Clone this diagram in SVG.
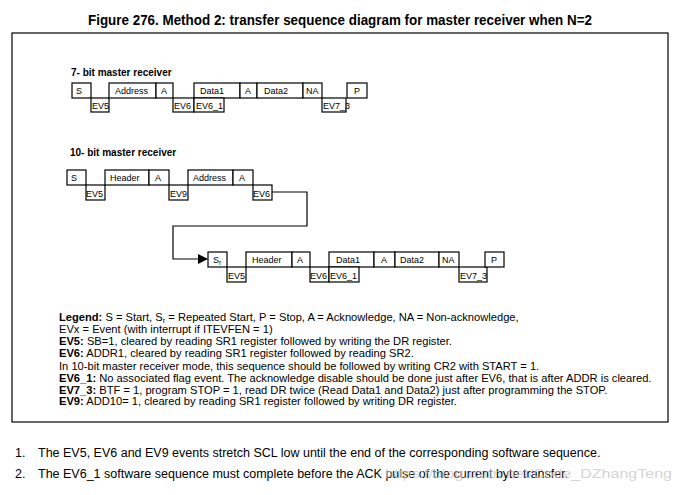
<svg xmlns="http://www.w3.org/2000/svg" width="679" height="495" viewBox="0 0 679 495">
<style>
.bx{fill:#fff;stroke:#000;stroke-width:1.2}
.t{font-family:"Liberation Sans",Arial,sans-serif;font-size:9px;fill:#000}
.h{font-family:"Liberation Sans",Arial,sans-serif;font-size:10px;font-weight:bold;fill:#000}
.lg{font-family:"Liberation Sans",Arial,sans-serif;font-size:11.15px;fill:#000}
.nt{font-family:"Liberation Sans",Arial,sans-serif;font-size:12.5px;fill:#000}
.b{font-weight:bold}
.c{fill:none;stroke:#000;stroke-width:1.2}
</style>
<defs>
<marker id="ah" markerWidth="10" markerHeight="10" refX="9" refY="5" orient="auto" markerUnits="userSpaceOnUse">
<path d="M0,0 L10,5 L0,10 z" fill="#000"/>
</marker>
</defs>
<rect width="679" height="495" fill="#fff"/>
<text x="340" y="25" text-anchor="middle" font-family="Liberation Sans, Arial, sans-serif" font-size="15" font-weight="bold" textLength="504" lengthAdjust="spacingAndGlyphs">Figure 276. Method 2: transfer sequence diagram for master receiver when N=2</text>
<rect x="12" y="33" width="656" height="389" fill="none" stroke="#000" stroke-width="1.2"/>

<text class="h" x="71" y="76">7- bit master receiver</text>
<g id="r1-S"><rect class="bx" x="72" y="83" width="19" height="15"/><text class="t" x="76" y="94">S</text></g>
<g id="r1-EV5"><rect class="bx" x="91" y="98" width="18" height="14"/><text class="t" x="92" y="109">EV5</text></g>
<g id="r1-Address"><rect class="bx" x="109" y="83" width="47" height="15"/><text class="t" x="115" y="94">Address</text></g>
<g id="r1-A1"><rect class="bx" x="156" y="83" width="17" height="15"/><text class="t" x="161" y="94">A</text></g>
<g id="r1-EV6"><rect class="bx" x="173" y="98" width="21" height="14"/><text class="t" x="174" y="109">EV6</text></g>
<g id="r1-Data1"><rect class="bx" x="194" y="83" width="46" height="15"/><text class="t" x="200" y="94">Data1</text></g>
<g id="r1-EV6_1"><rect class="bx" x="194" y="98" width="30" height="14"/><text class="t" x="196" y="109">EV6_1</text></g>
<g id="r1-A2"><rect class="bx" x="240" y="83" width="17" height="15"/><text class="t" x="245" y="94">A</text></g>
<g id="r1-Data2"><rect class="bx" x="257" y="83" width="46" height="15"/><text class="t" x="264" y="94">Data2</text></g>
<g id="r1-NA"><rect class="bx" x="303" y="83" width="19" height="15"/><text class="t" x="306" y="94">NA</text></g>
<g id="r1-EV7_3"><rect class="bx" x="322" y="98" width="24" height="14"/><text class="t" x="323" y="109">EV7_3</text></g>
<g id="r1-P"><rect class="bx" x="347" y="83" width="20" height="15"/><text class="t" x="354" y="94">P</text></g>

<text class="h" x="70" y="156">10- bit master receiver</text>
<g id="r2-S"><rect class="bx" x="67" y="170" width="19" height="15"/><text class="t" x="71" y="181">S</text></g>
<g id="r2-EV5"><rect class="bx" x="86" y="185" width="19" height="15"/><text class="t" x="86" y="197">EV5</text></g>
<g id="r2-Header"><rect class="bx" x="105" y="170" width="44" height="15"/><text class="t" x="110" y="181">Header</text></g>
<g id="r2-A1"><rect class="bx" x="149" y="170" width="20" height="15"/><text class="t" x="155" y="181">A</text></g>
<g id="r2-EV9"><rect class="bx" x="169" y="185" width="19" height="15"/><text class="t" x="170" y="197">EV9</text></g>
<g id="r2-Address"><rect class="bx" x="188" y="170" width="45" height="15"/><text class="t" x="193" y="181">Address</text></g>
<g id="r2-A2"><rect class="bx" x="233" y="170" width="20" height="15"/><text class="t" x="239" y="181">A</text></g>
<g id="r2-EV6"><rect class="bx" x="253" y="185" width="19" height="15"/><text class="t" x="253" y="197">EV6</text></g>

<g id="r3-Sr"><rect class="bx" x="208" y="252" width="19" height="15"/><text class="t" x="213" y="263">S<tspan font-size="6.5" dy="2">r</tspan></text></g>
<g id="r3-EV5"><rect class="bx" x="227" y="267" width="19" height="15"/><text class="t" x="228" y="279">EV5</text></g>
<g id="r3-Header"><rect class="bx" x="246" y="252" width="46" height="15"/><text class="t" x="252" y="263">Header</text></g>
<g id="r3-A1"><rect class="bx" x="292" y="252" width="18" height="15"/><text class="t" x="297" y="263">A</text></g>
<g id="r3-EV6"><rect class="bx" x="310" y="267" width="19" height="15"/><text class="t" x="310" y="279">EV6</text></g>
<g id="r3-Data1"><rect class="bx" x="329" y="252" width="45" height="15"/><text class="t" x="336" y="263">Data1</text></g>
<g id="r3-EV6_1"><rect class="bx" x="329" y="267" width="30" height="15"/><text class="t" x="330" y="279">EV6_1</text></g>
<g id="r3-A2"><rect class="bx" x="374" y="252" width="21" height="15"/><text class="t" x="381" y="263">A</text></g>
<g id="r3-Data2"><rect class="bx" x="395" y="252" width="44" height="15"/><text class="t" x="400" y="263">Data2</text></g>
<g id="r3-NA"><rect class="bx" x="439" y="252" width="20" height="15"/><text class="t" x="442" y="263">NA</text></g>
<g id="r3-EV7_3"><rect class="bx" x="459" y="267" width="28" height="15"/><text class="t" x="460" y="279">EV7_3</text></g>
<g id="r3-P"><rect class="bx" x="485" y="252" width="19" height="15"/><text class="t" x="491" y="263">P</text></g>

<g id="connectors">
<path class="c" d="M272,192 H307 V226 H173 V259 H207" marker-end="url(#ah)"/>
</g>

<g id="legend">
<text class="lg" x="59" y="321"><tspan class="b">Legend:</tspan> S = Start, S<tspan font-size="7.5" dy="2">r</tspan><tspan dy="-2"> = Repeated Start, P = Stop, A = Acknowledge, NA = Non-acknowledge,</tspan></text>
<text class="lg" x="59" y="333">EVx = Event (with interrupt if ITEVFEN = 1)</text>
<text class="lg" x="59" y="345"><tspan class="b">EV5:</tspan> SB=1, cleared by reading SR1 register followed by writing the DR register.</text>
<text class="lg" x="59" y="357"><tspan class="b">EV6:</tspan> ADDR1, cleared by reading SR1 register followed by reading SR2.</text>
<text class="lg" x="59" y="370">In 10-bit master receiver mode, this sequence should be followed by writing CR2 with START = 1.</text>
<text class="lg" x="59" y="382"><tspan class="b">EV6_1:</tspan> No associated flag event. The acknowledge disable should be done just after EV6, that is after ADDR is cleared.</text>
<text class="lg" x="59" y="394"><tspan class="b">EV7_3:</tspan> BTF = 1, program STOP = 1, read DR twice (Read Data1 and Data2) just after programming the STOP.</text>
<text class="lg" x="59" y="405"><tspan class="b">EV9:</tspan> ADD10= 1, cleared by reading SR1 register followed by writing DR register.</text>
</g>

<text class="nt" x="15" y="457">1.</text>
<text class="nt" x="38" y="457">The EV5, EV6 and EV9 events stretch SCL low until the end of the corresponding software sequence.</text>
<text class="nt" x="15" y="478">2.</text>
<text class="nt" x="38" y="478">The EV6_1 software sequence must complete before the ACK pulse of the current byte transfer.</text>
<text x="385" y="478" font-family="Liberation Sans, Arial, sans-serif" font-size="13" fill="#c8c8c8" fill-opacity="0.8" textLength="287" lengthAdjust="spacingAndGlyphs">https://blog.csdn.net/Code_DZhangTeng</text>
</svg>
